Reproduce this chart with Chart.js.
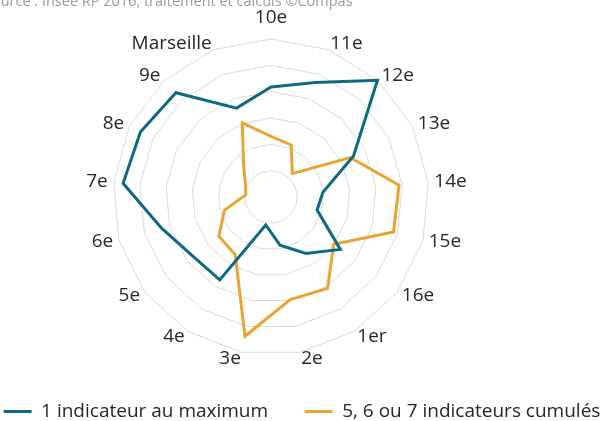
<!DOCTYPE html>
<html>
<head>
<meta charset="utf-8">
<script src="https://cdn.jsdelivr.net/npm/chart.js@4.4.1/dist/chart.umd.min.js"></script>
<style>
    html, body { margin: 0; padding: 0; background: #fff; overflow: hidden; }
    #wrap { position: relative; width: 604px; height: 421px; }
</style>
</head>
<body>
<div id="wrap"><canvas id="radarChart" width="604" height="421"></canvas></div>
<script>
// Marseille, part des ménages selon le nombre d'indicateurs de fragilité (%)
const arrondissements = ['10e', '11e', '12e', '13e', '14e', '15e', '16e', '1er', '2e',
    '3e', '4e', '5e', '6e', '7e', '8e', '9e', 'Marseille'];
const unIndicateurMax = [20.9, 23.3, 30.0, 17.5, 9.9, 9.1, 16.5, 12.6, 9.3,
    5.4, 18.5, 18.6, 21.6, 28.2, 27.7, 26.8, 18.1];
const cinqSixSeptCumules = [11.5, 10.6, 6.0, 16.8, 24.4, 24.2, 14.9, 20.4, 19.8,
    26.9, 12.9, 12.4, 9.2, 4.8, 5.4, 7.7, 15.1];
const seriesNames = ['1 indicateur au maximum', '5, 6 ou 7 indicateurs cumulés'];
const scaleMin = 0;
const scaleMax = 30;
const scaleStep = 5;
const sourceText = 'Source : Insee RP 2016, traitement et calculs ©Compas';

const FONT = '"Open Sans", "Noto Sans", sans-serif';
const TEXT_COLOR = '#262626';

// source line, half cut off at the top like the original export
const sourcePlugin = {
    id: 'sourceLine',
    afterDraw(chart) {
        const ctx = chart.ctx;
        ctx.save();
        ctx.font = '14.5px ' + FONT;
        ctx.fillStyle = '#9a9a9a';
        ctx.textAlign = 'left';
        ctx.textBaseline = 'alphabetic';
        ctx.fillText(sourceText, -16, 6);
        ctx.restore();
    }
};

// Excel-like axis labels: beside the spoke end, only the top one sits above it
const axisLabelPlugin = {
    id: 'axisLabels',
    afterDraw(chart) {
        const scale = chart.scales.r;
        const ctx = chart.ctx;
        ctx.save();
        ctx.font = '19px ' + FONT;
        ctx.fillStyle = TEXT_COLOR;
        ctx.textBaseline = 'middle';
        chart.data.labels.forEach((label, i) => {
            const angle = scale.getIndexAngle(i);
            const sin = Math.sin(angle);
            const pos = scale.getPointPosition(i, scale.drawingArea + 6);
            let y = pos.y;
            if (Math.abs(sin) < 0.05) {
                ctx.textAlign = 'center';
                y -= 15 * Math.sign(Math.cos(angle));
            } else {
                ctx.textAlign = sin > 0 ? 'left' : 'right';
            }
            ctx.fillText(label, pos.x, y);
        });
        ctx.restore();
    }
};

const seriesStyle = (color) => ({
    borderColor: color,
    backgroundColor: color,
    borderWidth: 3,
    fill: false,
    pointRadius: 0,
    pointHoverRadius: 0,
    tension: 0
});

new Chart(document.getElementById('radarChart'), {
    type: 'radar',
    data: {
        labels: arrondissements,
        datasets: [
            { label: seriesNames[0], data: unIndicateurMax, ...seriesStyle('#0e6a82') },
            { label: seriesNames[1], data: cinqSixSeptCumules, ...seriesStyle('#e8a531') }
        ]
    },
    options: {
        responsive: false,
        animation: false,
        layout: { padding: { top: 0, bottom: -10, left: 0, right: 0 } },
        plugins: {
            legend: {
                position: 'bottom',
                labels: {
                    usePointStyle: true,
                    pointStyle: 'line',
                    pointStyleWidth: 28,
                    padding: 2,
                    color: TEXT_COLOR,
                    font: { family: FONT, size: 19 },
                    // wider gap between the two entries, as in the original
                    generateLabels(chart) {
                        const items = Chart.defaults.plugins.legend.labels.generateLabels(chart);
                        items[0].text += '\u00a0'.repeat(7);
                        return items;
                    }
                }
            },
            tooltip: { enabled: false }
        },
        scales: {
            r: {
                min: scaleMin,
                max: scaleMax,
                ticks: { display: false, stepSize: scaleStep },
                grid: { color: '#d9d9d9', lineWidth: 1 },
                angleLines: { display: false },
                pointLabels: { display: false },
                // plot sits left of centre in the original, radius leaves room for labels
                afterFit(scale) {
                    scale.xCenter = 271;
                    scale.yCenter = 197;
                    scale.drawingArea = 158;
                }
            }
        }
    },
    plugins: [sourcePlugin, axisLabelPlugin]
});
</script>
</body>
</html>
